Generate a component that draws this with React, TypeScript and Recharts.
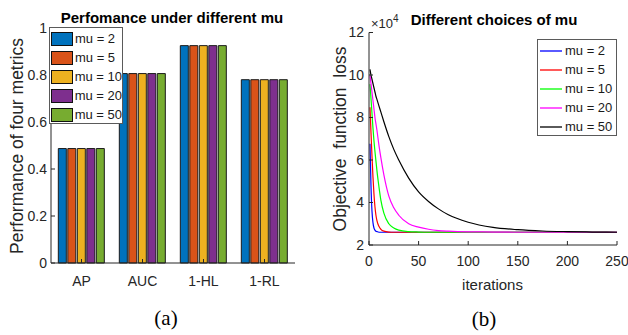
import React from 'react';
import { BarChart, Bar, LineChart, Line, XAxis, YAxis, Legend } from 'recharts';

// (a) bar chart data
const metrics = ['AP', 'AUC', '1-HL', '1-RL'];
const muNames = ['mu = 2', 'mu = 5', 'mu = 10', 'mu = 20', 'mu = 50'];
const perfMu2 = [0.487, 0.806, 0.925, 0.78];
const perfMu5 = [0.487, 0.806, 0.925, 0.78];
const perfMu10 = [0.487, 0.806, 0.925, 0.78];
const perfMu20 = [0.487, 0.806, 0.925, 0.78];
const perfMu50 = [0.487, 0.806, 0.925, 0.78];
const perfTicks = [0, 0.2, 0.4, 0.6, 0.8, 1];

// (b) loss curves
const iterations = [1, 2, 3, 4, 5, 6, 7, 8, 10, 12, 15, 20, 25, 30, 40, 50, 60, 70, 80, 100, 125, 150, 175, 200, 225, 250];
const lossMu2 = [67600, 48000, 36000, 30500, 28000, 27000, 26500, 26300, 26000, 26000, 26000, 26000, 26000, 26000, 26000, 26000, 26000, 26000, 26000, 26000, 26000, 26000, 26000, 26000, 26000, 26000];
const lossMu5 = [84800, 73000, 62000, 52000, 44000, 38000, 34000, 31500, 28800, 27400, 26500, 26100, 26000, 26000, 26000, 26000, 26000, 26000, 26000, 26000, 26000, 26000, 26000, 26000, 26000, 26000];
const lossMu10 = [95700, 89000, 82000, 75000, 69000, 64000, 59500, 55000, 47500, 41000, 35000, 30000, 28000, 27000, 26300, 26100, 26000, 26000, 26000, 26000, 26000, 26000, 26000, 26000, 26000, 26000];
const lossMu20 = [99700, 96000, 92000, 88000, 84000, 80000, 77000, 74000, 67000, 61000, 53000, 43000, 37500, 34000, 30000, 28400, 27400, 26800, 26500, 26200, 26100, 26000, 26000, 26000, 26000, 26000];
const lossMu50 = [102600, 100000, 98000, 96000, 94000, 92000, 90000, 88500, 85500, 82500, 78000, 71000, 65000, 60000, 51500, 45000, 40500, 37000, 34200, 30700, 28300, 27200, 26600, 26300, 26100, 26000];
const iterTicks = [0, 50, 100, 150, 200, 250];
const lossTicks = [20000, 40000, 60000, 80000, 100000, 120000];

const barColors = ['#0072BD', '#D95319', '#EDB120', '#7E2F8E', '#77AC30'];
const lineColors = ['#0000FF', '#FF0000', '#00FF00', '#FF00FF', '#000000'];

const FONT = 'Arial, "Liberation Sans", Helvetica, sans-serif';
const AXIS = '#262626';

const barRows = metrics.map((m, i) => ({
  metric: m,
  mu2: perfMu2[i],
  mu5: perfMu5[i],
  mu10: perfMu10[i],
  mu20: perfMu20[i],
  mu50: perfMu50[i],
}));

const lossRows = iterations.map((it, i) => ({
  it,
  mu2: lossMu2[i],
  mu5: lossMu5[i],
  mu10: lossMu10[i],
  mu20: lossMu20[i],
  mu50: lossMu50[i],
}));

const seriesKeys = ['mu2', 'mu5', 'mu10', 'mu20', 'mu50'];

const tickStyle = { fontSize: 14, fill: AXIS, fontFamily: FONT };

// legends keep the plotting order (Recharts would sort them by name)
const BarLegend = () => (
  <div style={{ width: 74, height: 97, background: '#fff', border: '1px solid #5a5a5a', boxSizing: 'border-box', paddingTop: 1, fontFamily: FONT }}>
    {muNames.map((name, i) => (
      <div key={name} style={{ display: 'flex', alignItems: 'center', height: 19 }}>
        <span style={{ display: 'inline-block', width: 22, height: 14, background: barColors[i], border: '1px solid #111', boxSizing: 'border-box', marginLeft: 1, marginRight: 2 }} />
        <span style={{ fontSize: 13, color: '#1a1a1a', whiteSpace: 'nowrap' }}>{name}</span>
      </div>
    ))}
  </div>
);

const LineLegend = () => (
  <div style={{ width: 80, height: 97, background: '#fff', border: '1px solid #5a5a5a', boxSizing: 'border-box', paddingTop: 1, fontFamily: FONT }}>
    {muNames.map((name, i) => (
      <div key={name} style={{ display: 'flex', alignItems: 'center', height: 19 }}>
        <svg width={24} height={4} style={{ marginLeft: 1, marginRight: 2, display: 'block' }}>
          <line x1={1} x2={23} y1={2} y2={2} stroke={lineColors[i]} strokeWidth={1.3} />
        </svg>
        <span style={{ fontSize: 13, color: '#1a1a1a', whiteSpace: 'nowrap' }}>{name}</span>
      </div>
    ))}
  </div>
);

export default function App() {
  return (
    <div style={{ position: 'absolute', left: 0, top: 0, width: 628, height: 335, background: '#fff', overflow: 'hidden' }}>
      <div style={{ position: 'absolute', left: 0, top: 0 }}>
        <BarChart
          width={314}
          height={335}
          data={barRows}
          margin={{ top: 28, right: 19, bottom: 42, left: 21 }}
          barCategoryGap="12%"
          barGap={1.5}
        >
          <XAxis dataKey="metric" stroke={AXIS} tickSize={-4} tickMargin={17} tick={tickStyle} height={30} interval={0} />
          <XAxis xAxisId="top" dataKey="metric" orientation="top" stroke={AXIS} tickSize={-4} tick={false} height={0} />
          <YAxis domain={[0, 1]} ticks={perfTicks} stroke={AXIS} tickSize={-4} tickMargin={8} tick={tickStyle} width={30} />
          <YAxis yAxisId="right" orientation="right" domain={[0, 1]} ticks={perfTicks} stroke={AXIS} tickSize={-4} tick={false} width={0} />
          {seriesKeys.map((k, i) => (
            <Bar key={k} dataKey={k} name={muNames[i]} fill={barColors[i]} stroke="#1a1a1a" strokeWidth={1} isAnimationActive={false} />
          ))}
          <Legend
            layout="vertical"
            align="center"
            verticalAlign="middle"
            content={BarLegend}
            wrapperStyle={{ left: 49, top: 27, width: 74, height: 97 }}
          />
        </BarChart>
      </div>

      <div style={{ position: 'absolute', left: 314, top: 0 }}>
        <LineChart
          width={314}
          height={335}
          data={lossRows}
          margin={{ top: 32.5, right: 11, bottom: 60, left: 25 }}
        >
          <XAxis dataKey="it" type="number" domain={[0, 250]} ticks={iterTicks} stroke={AXIS} tickSize={-4} tickMargin={15} tick={tickStyle} height={30} />
          <XAxis xAxisId="top" dataKey="it" type="number" orientation="top" domain={[0, 250]} ticks={iterTicks} stroke={AXIS} tickSize={-4} tick={false} height={0} />
          <YAxis domain={[20000, 120000]} ticks={lossTicks} tickFormatter={(v: number) => String(v / 10000)} stroke={AXIS} tickSize={-4} tickMargin={9} tick={tickStyle} width={30} />
          <YAxis yAxisId="right" orientation="right" domain={[20000, 120000]} ticks={lossTicks} stroke={AXIS} tickSize={-4} tick={false} width={0} />
          {seriesKeys.map((k, i) => (
            <Line key={k} type="monotone" dataKey={k} name={muNames[i]} stroke={lineColors[i]} strokeWidth={1.2} dot={false} isAnimationActive={false} />
          ))}
          <Legend
            layout="vertical"
            align="center"
            verticalAlign="middle"
            content={LineLegend}
            wrapperStyle={{ left: 223, top: 39, width: 80, height: 97 }}
          />
        </LineChart>
      </div>

      <svg width={628} height={335} style={{ position: 'absolute', left: 0, top: 0, pointerEvents: 'none' }} fontFamily={FONT}>
        <text x={172} y={22.5} textAnchor="middle" fontSize={15} fontWeight="bold" fill="#000">Perfomance under different mu</text>
        <text transform="translate(23,146) rotate(-90)" textAnchor="middle" fontSize={17.5} fill={AXIS}>Performance of four metrics</text>
        <text x={166} y={324.5} textAnchor="middle" fontSize={21} fontFamily='"Times New Roman", "Liberation Serif", serif' fill="#000">(a)</text>

        <text x={494} y={24.5} textAnchor="middle" fontSize={15} fontWeight="bold" fill="#000">Different choices of mu</text>
        <text x={371} y={27.5} fontSize={13} fill={AXIS}>
          ×10<tspan fontSize={10} dy={-6}>4</tspan>
        </text>
        <text transform="translate(346,139) rotate(-90)" textAnchor="middle" fontSize={17.5} fill={AXIS} style={{ whiteSpace: 'pre' }}>{'Objective  function  loss'}</text>
        <text x={492.5} y={289.5} textAnchor="middle" fontSize={15} fill={AXIS}>iterations</text>
        <text x={484} y={326} textAnchor="middle" fontSize={21} fontFamily='"Times New Roman", "Liberation Serif", serif' fill="#000">(b)</text>
      </svg>
    </div>
  );
}
